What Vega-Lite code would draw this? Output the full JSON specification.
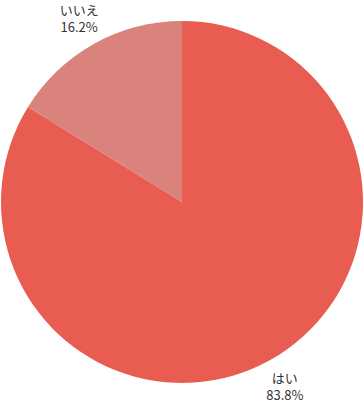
{
  "$schema": "https://vega.github.io/schema/vega-lite/v6.json",
  "width": 364,
  "height": 404,
  "padding": 0,
  "autosize": {"type": "none"},
  "config": {"view": {"stroke": null}},
  "data": {"values": [
    {"answer": "はい", "pct": 83.8, "ord": 1, "label": "はい\n83.8%"},
    {"answer": "いいえ", "pct": 16.2, "ord": 2, "label": "いいえ\n16.2%"}
  ]},
  "encoding": {
    "theta": {"field": "pct", "type": "quantitative", "stack": true},
    "order": {"field": "ord", "type": "quantitative"}
  },
  "layer": [
    {
      "mark": {"type": "arc", "outerRadius": 181},
      "encoding": {
        "color": {"field": "answer", "type": "nominal", "legend": null,
          "scale": {"domain": ["はい", "いいえ"], "range": ["#E85C52", "#D9837C"]}}
      }
    },
    {
      "mark": {"type": "text", "radius": 211, "dy": -7, "lineBreak": "\n", "font": "Noto Sans CJK JP", "fontSize": 13, "color": "#333333", "align": "center", "baseline": "middle", "lineHeight": 17},
      "encoding": {"text": {"field": "label"}}
    }
  ]
}
